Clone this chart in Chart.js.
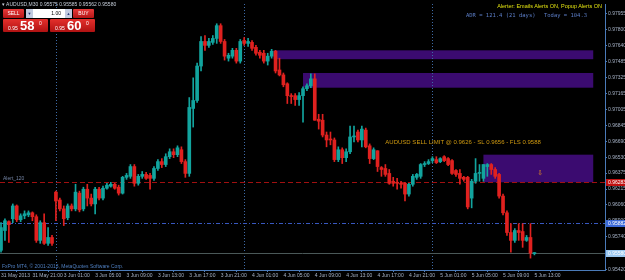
<!DOCTYPE html>
<html>
<head>
<meta charset="utf-8">
<script src="https://cdn.jsdelivr.net/npm/chart.js@4.4.0/dist/chart.umd.min.js"></script>
<style>
  body { margin: 0; background: #000; }
  #wrap { position: relative; width: 625px; height: 280px; overflow: hidden; font-family: "Liberation Sans", Arial, sans-serif; }
  #chart { position: absolute; left: 0; top: 0; }
  .abs { position: absolute; white-space: nowrap; }
  #title { left: 2px; top: 1px; font-size: 5px; color: #c8d0dc; }
  .btn { top: 9px; height: 9px; width: 21px; background: linear-gradient(#e83a3a, #b51616); color: #fff; font-size: 5px; line-height: 9px; text-align: center; border-radius: 1px; }
  .spin { top: 9px; height: 9px; width: 7px; background: #c2cbe0; color: #2a3c78; font-size: 4px; line-height: 9px; text-align: center; }
  #lots { left: 33px; top: 9px; width: 32px; height: 9px; background: #fff; color: #000; font-size: 5px; line-height: 9px; text-align: right; box-sizing: border-box; padding-right: 4px; }
  .price { top: 19px; height: 13px; width: 45px; background: linear-gradient(#e4302c, #b01212); color: #fff; border-radius: 1px; }
  .price .small { position: absolute; top: 6px; font-size: 5px; }
  .price .big { position: absolute; top: 0; font-size: 13px; font-weight: bold; line-height: 13px; }
  .price .sup { position: absolute; top: 1px; font-size: 5px; }
  #alerter { right: 23px; top: 3px; font-size: 5.5px; color: #e0e010; }
  #adr { left: 466px; top: 12px; font-size: 5.5px; color: #5a7cc4; font-family: "DejaVu Sans Mono", monospace; }
  #today { right: 38px; top: 12px; font-size: 5.5px; color: #5a7cc4; font-family: "DejaVu Sans Mono", monospace; }
</style>
</head>
<body>
<div id="wrap">
  <canvas id="chart" width="625" height="280"></canvas>
  <div class="abs" id="title">&#9662; AUDUSD,M30 0.95575 0.95585 0.95562 0.95580</div>
  <div class="abs btn" style="left:3px;">SELL</div>
  <div class="abs spin" style="left:26px;">&#9660;</div>
  <div class="abs" id="lots">1.00</div>
  <div class="abs spin" style="left:65px;">&#9650;</div>
  <div class="abs btn" style="left:73px;">BUY</div>
  <div class="abs price" style="left:3px;"><span class="small" style="left:5px;">0.95</span><span class="big" style="left:17px;">58</span><span class="sup" style="left:36px;">0</span></div>
  <div class="abs price" style="left:50px;"><span class="small" style="left:5px;">0.95</span><span class="big" style="left:17px;">60</span><span class="sup" style="left:36px;">0</span></div>
  <div class="abs" id="alerter">Alerter: Emails Alerts ON, Popup Alerts ON</div>
  <div class="abs" id="adr">ADR = 121.4  (21 days)</div>
  <div class="abs" id="today">Today = 104.3</div>
</div>
<script>
// AUDUSD M30 bars, 31 May 2013 17:00 .. 5 Jun 2013 13:00
const opens = [
  0.95608, 0.95804, 0.95892, 0.95921, 0.96048, 0.95911, 0.95950, 0.95960, 0.95980, 0.95941,
  0.95706, 0.95882, 0.95677, 0.95735, 0.96185, 0.96107, 0.96019, 0.95931, 0.96048, 0.96019,
  0.96175, 0.96019, 0.96214, 0.96126, 0.96068, 0.96214, 0.96126, 0.96224, 0.96244, 0.96263,
  0.96234, 0.96175, 0.96332, 0.96342, 0.96439, 0.96273, 0.96342, 0.96361, 0.96351, 0.96322,
  0.96420, 0.96488, 0.96459, 0.96537, 0.96586, 0.96557, 0.96606, 0.96488, 0.96371, 0.97016,
  0.97095, 0.97437, 0.97681, 0.97642, 0.97672, 0.97711, 0.97838, 0.97681, 0.97515, 0.97535,
  0.97593, 0.97486, 0.97691, 0.97662, 0.97672, 0.97623, 0.97574, 0.97564, 0.97486, 0.97535,
  0.97584, 0.97398, 0.97349, 0.97261, 0.97143, 0.97143, 0.97104, 0.97143, 0.97212, 0.97241,
  0.97310, 0.96909, 0.96899, 0.96752, 0.96713, 0.96703, 0.96508, 0.96606, 0.96527, 0.96586,
  0.96733, 0.96782, 0.96703, 0.96801, 0.96645, 0.96518, 0.96596, 0.96429, 0.96420, 0.96371,
  0.96293, 0.96283, 0.96273, 0.96273, 0.96166, 0.96263, 0.96332, 0.96342, 0.96459, 0.96469,
  0.96498, 0.96508, 0.96488, 0.96537, 0.96518, 0.96498, 0.96400, 0.96371, 0.96332, 0.96332,
  0.96126, 0.96293, 0.96371, 0.96322, 0.96439, 0.96459, 0.96410, 0.96361, 0.96146, 0.95980,
  0.95784, 0.95706, 0.95804, 0.95794, 0.95706, 0.95735, 0.95575
];
const highs = [
  0.95882, 0.95921, 0.95901, 0.96068, 0.96058, 0.95970, 0.95999, 0.95999, 0.95989, 0.95960,
  0.95901, 0.95970, 0.95833, 0.95755, 0.96195, 0.96126, 0.96048, 0.96068, 0.96068, 0.96263,
  0.96195, 0.96234, 0.96263, 0.96166, 0.96234, 0.96234, 0.96244, 0.96273, 0.96283, 0.96273,
  0.96254, 0.96342, 0.96371, 0.96459, 0.96459, 0.96361, 0.96390, 0.96381, 0.96371, 0.96439,
  0.96508, 0.96518, 0.96566, 0.96615, 0.96615, 0.96645, 0.96635, 0.96508, 0.97124, 0.97320,
  0.97466, 0.97730, 0.97740, 0.97711, 0.97740, 0.97857, 0.97857, 0.97701, 0.97564, 0.97613,
  0.97613, 0.97701, 0.97720, 0.97711, 0.97691, 0.97642, 0.97593, 0.97593, 0.97564, 0.97603,
  0.97593, 0.97515, 0.97368, 0.97271, 0.97163, 0.97163, 0.97173, 0.97231, 0.97261, 0.97359,
  0.97359, 0.96958, 0.96958, 0.96782, 0.96782, 0.96723, 0.96635, 0.96625, 0.96615, 0.96840,
  0.96840, 0.96801, 0.96840, 0.96821, 0.96664, 0.96625, 0.96596, 0.96439, 0.96459, 0.96410,
  0.96332, 0.96322, 0.96293, 0.96283, 0.96273, 0.96361, 0.96371, 0.96469, 0.96488, 0.96508,
  0.96537, 0.96537, 0.96527, 0.96547, 0.96527, 0.96508, 0.96410, 0.96410, 0.96342, 0.96342,
  0.96312, 0.96518, 0.96459, 0.96459, 0.96469, 0.96469, 0.96429, 0.96371, 0.96166, 0.95999,
  0.95872, 0.95823, 0.95872, 0.95872, 0.95755, 0.95872, 0.95585
];
const lows = [
  0.95589, 0.95706, 0.95686, 0.95882, 0.95892, 0.95892, 0.95921, 0.95941, 0.95901, 0.95686,
  0.95677, 0.95667, 0.95657, 0.95657, 0.95901, 0.95999, 0.95853, 0.95911, 0.95999, 0.95999,
  0.95989, 0.95999, 0.96048, 0.96048, 0.95970, 0.96107, 0.96107, 0.96214, 0.96234, 0.96214,
  0.96156, 0.96166, 0.96312, 0.96322, 0.96244, 0.96254, 0.96322, 0.96312, 0.96214, 0.96302,
  0.96400, 0.96429, 0.96439, 0.96518, 0.96527, 0.96537, 0.96469, 0.96332, 0.96342, 0.96831,
  0.97075, 0.97388, 0.97593, 0.97623, 0.97652, 0.97662, 0.97662, 0.97496, 0.97486, 0.97515,
  0.97466, 0.97466, 0.97642, 0.97632, 0.97593, 0.97544, 0.97515, 0.97466, 0.97447, 0.97515,
  0.97368, 0.97339, 0.97231, 0.97065, 0.97065, 0.97046, 0.97046, 0.96879, 0.97192, 0.97222,
  0.96899, 0.96811, 0.96733, 0.96635, 0.96655, 0.96488, 0.96488, 0.96469, 0.96488, 0.96566,
  0.96684, 0.96684, 0.96635, 0.96625, 0.96469, 0.96508, 0.96390, 0.96342, 0.96342, 0.96263,
  0.96244, 0.96214, 0.96224, 0.96097, 0.96146, 0.96244, 0.96312, 0.96322, 0.96439, 0.96459,
  0.96478, 0.96469, 0.96478, 0.96488, 0.96449, 0.96361, 0.96342, 0.96263, 0.96293, 0.96019,
  0.96029, 0.96273, 0.96293, 0.96293, 0.96342, 0.96361, 0.96322, 0.96126, 0.95960, 0.95755,
  0.95589, 0.95686, 0.95706, 0.95637, 0.95696, 0.95530, 0.95562
];
const closes = [
  0.95833, 0.95901, 0.95862, 0.96048, 0.95911, 0.95950, 0.95970, 0.95980, 0.95941, 0.95706,
  0.95882, 0.95677, 0.95735, 0.95677, 0.96097, 0.96019, 0.95921, 0.96048, 0.96019, 0.96185,
  0.96009, 0.96214, 0.96126, 0.96068, 0.96214, 0.96126, 0.96224, 0.96254, 0.96263, 0.96224,
  0.96175, 0.96332, 0.96351, 0.96439, 0.96273, 0.96342, 0.96361, 0.96322, 0.96322, 0.96420,
  0.96488, 0.96459, 0.96537, 0.96586, 0.96557, 0.96625, 0.96488, 0.96371, 0.97026, 0.97095,
  0.97437, 0.97681, 0.97642, 0.97681, 0.97711, 0.97838, 0.97681, 0.97535, 0.97544, 0.97593,
  0.97486, 0.97681, 0.97662, 0.97681, 0.97613, 0.97564, 0.97544, 0.97486, 0.97535, 0.97584,
  0.97388, 0.97349, 0.97251, 0.97143, 0.97134, 0.97104, 0.97143, 0.97212, 0.97241, 0.97310,
  0.96899, 0.96889, 0.96752, 0.96703, 0.96703, 0.96508, 0.96606, 0.96527, 0.96586, 0.96733,
  0.96742, 0.96703, 0.96811, 0.96635, 0.96518, 0.96606, 0.96439, 0.96410, 0.96361, 0.96273,
  0.96273, 0.96273, 0.96263, 0.96166, 0.96263, 0.96342, 0.96361, 0.96459, 0.96469, 0.96488,
  0.96518, 0.96478, 0.96518, 0.96498, 0.96459, 0.96371, 0.96361, 0.96322, 0.96312, 0.96038,
  0.96293, 0.96371, 0.96381, 0.96459, 0.96459, 0.96410, 0.96342, 0.96146, 0.95980, 0.95784,
  0.95706, 0.95804, 0.95784, 0.95706, 0.95735, 0.95579, 0.95580
];

// time axis labels, one every 8 bars
const xTickLabels = [
  "31 May 2013", "31 May 21:00", "3 Jun 01:00", "3 Jun 05:00", "3 Jun 09:00", "3 Jun 13:00",
  "3 Jun 17:00", "3 Jun 21:00", "4 Jun 01:00", "4 Jun 05:00", "4 Jun 09:00", "4 Jun 13:00",
  "4 Jun 17:00", "4 Jun 21:00", "5 Jun 01:00", "5 Jun 05:00", "5 Jun 09:00", "5 Jun 13:00"
];
const xTickBars = [0, 8, 16, 24, 32, 40, 48, 56, 64, 72, 80, 88, 96, 104, 112, 120, 128, 136];
const daySeparators = [14, 62, 110];

const yTickLabels = [
  "0.97955", "0.97800", "0.97640", "0.97485", "0.97325", "0.97165", "0.97005", "0.96845",
  "0.96690", "0.96530", "0.96375", "0.96215", "0.96060", "0.95900", "0.95740", "0.95580", "0.95420"
];

// supply zones (rectangles), from bar index to the right edge
const zoneStart = [69.5, 77, 123];
const zoneTop = [0.97593, 0.97368, 0.96557];
const zoneBottom = [0.97505, 0.97222, 0.96283];
const zoneEnd = 151;

const alertPrice = 0.96283;
const flsPrice = 0.95882;
const bidPrice = 0.95580;
const orderText = "AUDUSD SELL LIMIT @ 0.9626 - SL 0.9656 - FLS 0.9588";

const barIdx = opens.map((o, i) => i);
const candleColors = closes.map((c, i) => (c >= opens[i] ? "#12a49e" : "#e0211f"));

// objects that MT4 draws on the chart
const overlay = {
  id: "overlay",
  beforeDatasetsDraw(chart) {
    const { ctx, chartArea: a, scales: { x, y } } = chart;
    ctx.save();
    zoneStart.forEach((s, k) => {
      const x0 = x.getPixelForValue(s);
      const x1 = x.getPixelForValue(zoneEnd);
      const y0 = y.getPixelForValue(zoneTop[k]);
      const y1 = y.getPixelForValue(zoneBottom[k]);
      ctx.fillStyle = "#3b0b70";
      ctx.fillRect(x0, y0, x1 - x0, y1 - y0);
    });

    ctx.strokeStyle = "#3e6aa6";
    ctx.lineWidth = 1;
    ctx.setLineDash([1, 2]);
    daySeparators.forEach(i => {
      const px = Math.round(x.getPixelForValue(i)) + 0.5;
      ctx.beginPath();
      ctx.moveTo(px, a.top);
      ctx.lineTo(px, a.bottom);
      ctx.stroke();
    });

    hLine(ctx, a, y.getPixelForValue(alertPrice), "#a01010", [5, 3]);
    hLine(ctx, a, y.getPixelForValue(flsPrice), "#3858c0", [4, 2, 1, 2]);
    hLine(ctx, a, y.getPixelForValue(bidPrice), "#4a5858", []);
    ctx.restore();
  },
  afterDatasetsDraw(chart) {
    const { ctx, chartArea: a, scales: { x, y } } = chart;
    ctx.save();
    ctx.font = "6px 'Liberation Sans'";
    ctx.fillStyle = "#d09a10";
    ctx.textBaseline = "middle";
    ctx.fillText(orderText, x.getPixelForValue(98), y.getPixelForValue(0.96684));

    ctx.font = "7px 'DejaVu Sans'";
    ctx.fillStyle = "#e08a20";
    ctx.fillText("\u21E9", x.getPixelForValue(136.7), y.getPixelForValue(0.96371));

    ctx.font = "5px 'Liberation Sans'";
    ctx.fillStyle = "#7484a4";
    ctx.textBaseline = "bottom";
    ctx.fillText("Alert_120", a.left + 3, y.getPixelForValue(alertPrice) - 1);

    ctx.fillStyle = "#4f7fc0";
    ctx.fillText("FxPro MT4, \u00A9 2001-2013, MetaQuotes Software Corp.", a.left + 2, a.bottom - 1);
    ctx.restore();
  },
  afterDraw(chart) {
    const { ctx, chartArea: a, scales: { y } } = chart;
    ctx.save();
    priceBox(ctx, a, y.getPixelForValue(alertPrice), alertPrice, "#c01010", "#ffffff");
    priceBox(ctx, a, y.getPixelForValue(flsPrice), flsPrice, "#3a68d8", "#ffffff");
    priceBox(ctx, a, y.getPixelForValue(bidPrice), bidPrice, "#9cc8f0", "#ffffff");
    ctx.restore();
  }
};

function hLine(ctx, a, py, color, dash) {
  const yy = Math.round(py) + 0.5;
  ctx.strokeStyle = color;
  ctx.setLineDash(dash);
  ctx.beginPath();
  ctx.moveTo(a.left, yy);
  ctx.lineTo(a.right, yy);
  ctx.stroke();
}

function priceBox(ctx, a, py, value, bg, fg) {
  ctx.fillStyle = bg;
  ctx.fillRect(a.right + 1, Math.round(py) - 3, 20, 7);
  ctx.fillStyle = fg;
  ctx.font = "5px 'Liberation Sans'";
  ctx.textBaseline = "middle";
  ctx.fillText(value.toFixed(5), a.right + 3, Math.round(py) + 0.5);
}

new Chart(document.getElementById("chart"), {
  type: "bar",
  data: {
    datasets: [
      {
        label: "wick",
        data: barIdx.map(i => ({ x: i, y: [lows[i], highs[i]] })),
        backgroundColor: candleColors,
        barThickness: 1,
        grouped: false,
        order: 2
      },
      {
        label: "body",
        data: barIdx.map(i => ({ x: i, y: [opens[i], closes[i]] })),
        backgroundColor: candleColors,
        barThickness: 3,
        minBarLength: 1,
        grouped: false,
        order: 1
      }
    ]
  },
  options: {
    responsive: false,
    animation: false,
    devicePixelRatio: 1,
    layout: { padding: 0 },
    plugins: { legend: { display: false }, tooltip: { enabled: false } },
    scales: {
      x: {
        type: "linear",
        min: -0.26,
        max: 154,
        offset: false,
        bounds: "data",
        border: { color: "#4a7ab8" },
        grid: { drawOnChartArea: false, color: "#4a7ab8", tickLength: 2 },
        ticks: {
          autoSkip: false,
          maxRotation: 0,
          align: "start",
          padding: 1,
          color: "#a6b2c6",
          font: { size: 5, family: "Liberation Sans" },
          callback: (v, i) => xTickLabels[i]
        },
        afterBuildTicks: scale => {
          scale.ticks = xTickBars.map(v => ({ value: v }));
        },
        afterFit: scale => {
          scale.height = 10;
        }
      },
      y: {
        position: "right",
        min: 0.95412,
        max: 0.98053,
        bounds: "data",
        border: { color: "#4a7ab8" },
        grid: { drawOnChartArea: false, color: "#4a7ab8", tickLength: 2 },
        ticks: {
          autoSkip: false,
          padding: 1,
          color: "#a6b2c6",
          font: { size: 5, family: "Liberation Sans" },
          callback: (v, i) => yTickLabels[i]
        },
        afterBuildTicks: scale => {
          scale.ticks = yTickLabels.map(t => ({ value: Number(t) }));
        },
        afterFit: scale => {
          scale.width = 20;
        }
      }
    }
  },
  plugins: [overlay]
});
</script>
</body>
</html>
